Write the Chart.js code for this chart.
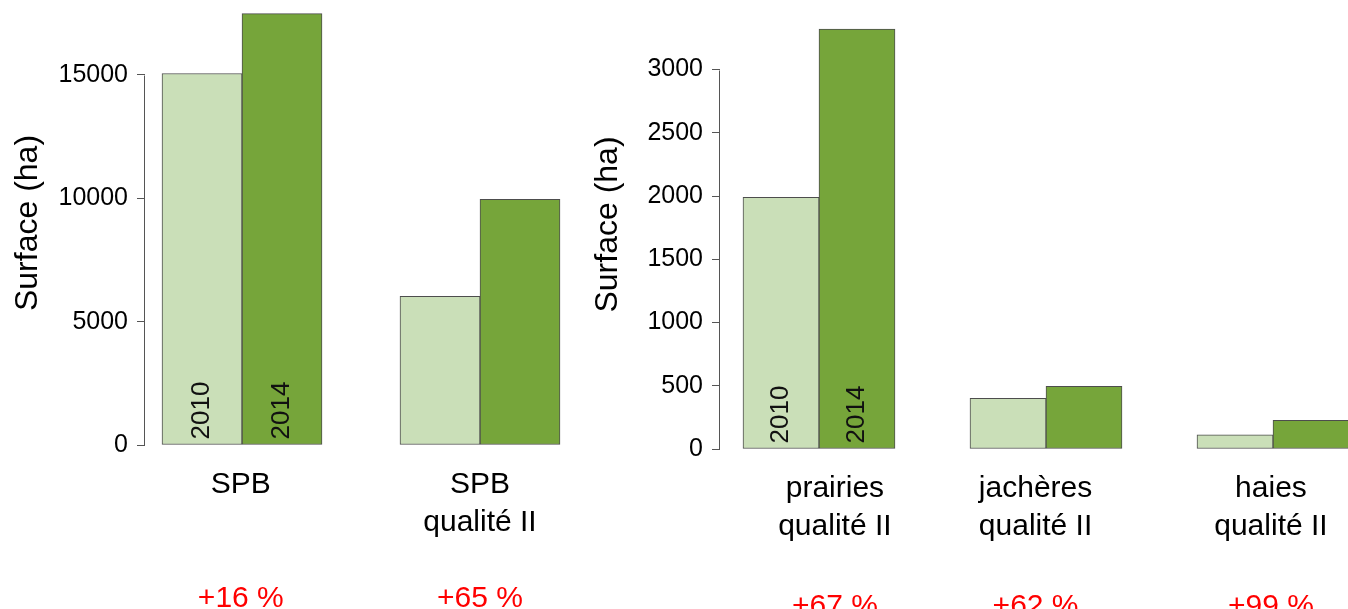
<!DOCTYPE html>
<html>
<head>
<meta charset="utf-8">
<script src="https://cdn.jsdelivr.net/npm/chart.js@4/dist/chart.umd.min.js"></script>
<style>
  body { margin: 0; background: #fff; }
  canvas { position: absolute; top: 0; }
  #left { left: 0; }
  #right { left: 580px; }
</style>
</head>
<body>
<canvas id="left" width="580" height="609"></canvas>
<canvas id="right" width="768" height="609"></canvas>
<script>
// data
const years = ['2010', '2014'];

const leftCategories = [['SPB'], ['SPB', 'qualité II']];
const left2010 = [15060, 6030];
const left2014 = [17490, 9960];
const leftChanges = ['+16 %', '+65 %'];
const leftTicks = [0, 5000, 10000, 15000];

const rightCategories = [['prairies', 'qualité II'], ['jachères', 'qualité II'], ['haies', 'qualité II']];
const right2010 = [1990, 400, 113];
const right2014 = [3320, 495, 226];
const rightChanges = ['+67 %', '+62 %', '+99 %'];
const rightTicks = [0, 500, 1000, 1500, 2000, 2500, 3000];

Chart.defaults.font.family = '"Liberation Sans", Arial, sans-serif';
Chart.defaults.color = '#000';

// R style axis line: only from first to last tick
const axisLine = {
    id: 'axisLine',
    afterDraw(chart) {
        const y = chart.scales.y;
        const ctx = chart.ctx;
        const top = y.getPixelForValue(y.ticks[y.ticks.length - 1].value);
        const bottom = y.getPixelForValue(y.ticks[0].value);
        ctx.save();
        ctx.strokeStyle = '#555';
        ctx.lineWidth = 1;
        ctx.beginPath();
        ctx.moveTo(Math.round(y.right) - 0.5, Math.round(top) + 0.5);
        ctx.lineTo(Math.round(y.right) - 0.5, Math.round(bottom) + 0.5);
        ctx.stroke();
        ctx.restore();
    }
};

// year written inside the first group of bars
const yearLabels = {
    id: 'yearLabels',
    afterDatasetsDraw(chart) {
        const ctx = chart.ctx;
        ctx.save();
        ctx.font = '26px "Liberation Sans", Arial, sans-serif';
        ctx.fillStyle = '#111';
        ctx.textAlign = 'left';
        ctx.textBaseline = 'middle';
        chart.data.datasets.forEach((ds, i) => {
            const bar = chart.getDatasetMeta(i).data[0];
            ctx.save();
            ctx.translate(bar.x, bar.base - 5);
            ctx.rotate(-Math.PI / 2);
            ctx.fillText(ds.label, 0, 0);
            ctx.restore();
        });
        ctx.restore();
    }
};

function noPadding(sc) {
    sc.paddingTop = 0;
    sc.paddingBottom = 0;
    sc.paddingLeft = 0;
    sc.paddingRight = 0;
}

function makeChart(id, categories, v2010, v2014, changes, yTicks, s) {
    const barStyle = { borderColor: '#4d4d4d', borderWidth: 1, borderSkipped: false, barThickness: s.barWidth };
    // text under the bars is placed slightly off the group centre in the original
    const labelTicks = sc => { sc.ticks = categories.map((c, i) => ({ value: i + s.labelShift[i] })); };
    new Chart(document.getElementById(id), {
        type: 'bar',
        data: {
            datasets: [
                Object.assign({ label: years[0], backgroundColor: '#cadfb8',
                    data: v2010.map((v, i) => ({ x: i, y: v })) }, barStyle),
                Object.assign({ label: years[1], backgroundColor: '#76a53a',
                    data: v2014.map((v, i) => ({ x: i, y: v })) }, barStyle)
            ]
        },
        options: {
            responsive: false,
            animation: false,
            layout: { padding: { top: s.padTop, left: 0, right: 0, bottom: 0 } },
            plugins: { legend: { display: false }, tooltip: { enabled: false } },
            scales: {
                x: {
                    type: 'linear',
                    offset: false,
                    min: s.xMin,
                    max: s.xMax,
                    weight: 0,
                    grid: { display: false, offset: false },
                    border: { display: false },
                    afterBuildTicks: labelTicks,
                    afterFit: sc => { sc.height = 92; noPadding(sc); },
                    ticks: {
                        maxRotation: 0,
                        autoSkip: false,
                        padding: 13,
                        font: { size: 30, lineHeight: 1.27 },
                        callback: v => categories[Math.round(v)]
                    }
                },
                x2: {
                    type: 'linear',
                    position: 'bottom',
                    offset: false,
                    min: s.xMin,
                    max: s.xMax,
                    weight: 1,
                    grid: { display: false, offset: false },
                    border: { display: false },
                    afterBuildTicks: labelTicks,
                    afterFit: sc => { sc.height = s.x2Height; noPadding(sc); },
                    ticks: {
                        maxRotation: 0,
                        autoSkip: false,
                        padding: s.x2Pad,
                        color: '#ff0000',
                        font: { size: 30, lineHeight: 1.27 },
                        callback: v => changes[Math.round(v)]
                    }
                },
                y: {
                    min: 0,
                    max: s.yMax,
                    afterBuildTicks: sc => { sc.ticks = yTicks.map(v => ({ value: v })); },
                    afterFit: sc => { sc.width = s.axisWidth; noPadding(sc); },
                    grid: { drawOnChartArea: false, drawTicks: true, tickLength: 8, color: '#555' },
                    border: { display: false },
                    title: {
                        display: true,
                        text: 'Surface (ha)',
                        font: { size: 32, lineHeight: 1 },
                        padding: { top: 12, bottom: 0 }
                    },
                    ticks: {
                        padding: 9,
                        font: { size: 25 },
                        callback: v => String(v)
                    }
                }
            }
        },
        plugins: [axisLine, yearLabels]
    });
}

makeChart('left', leftCategories, left2010, left2014, leftChanges, leftTicks,
    { xMin: -0.4076, xMax: 1.4202, yMax: 18000, axisWidth: 145, barWidth: 80, padTop: 1,
      x2Height: 72, x2Pad: 35, labelShift: [-0.005, 0] });

makeChart('right', rightCategories, right2010, right2014, rightChanges, rightTicks,
    { xMin: -0.4361, xMax: 2.3304, yMax: 3550, axisWidth: 140, barWidth: 76, padTop: 0,
      x2Height: 68, x2Pad: 39, labelShift: [0.07, -0.046, -0.009] });
</script>
</body>
</html>
